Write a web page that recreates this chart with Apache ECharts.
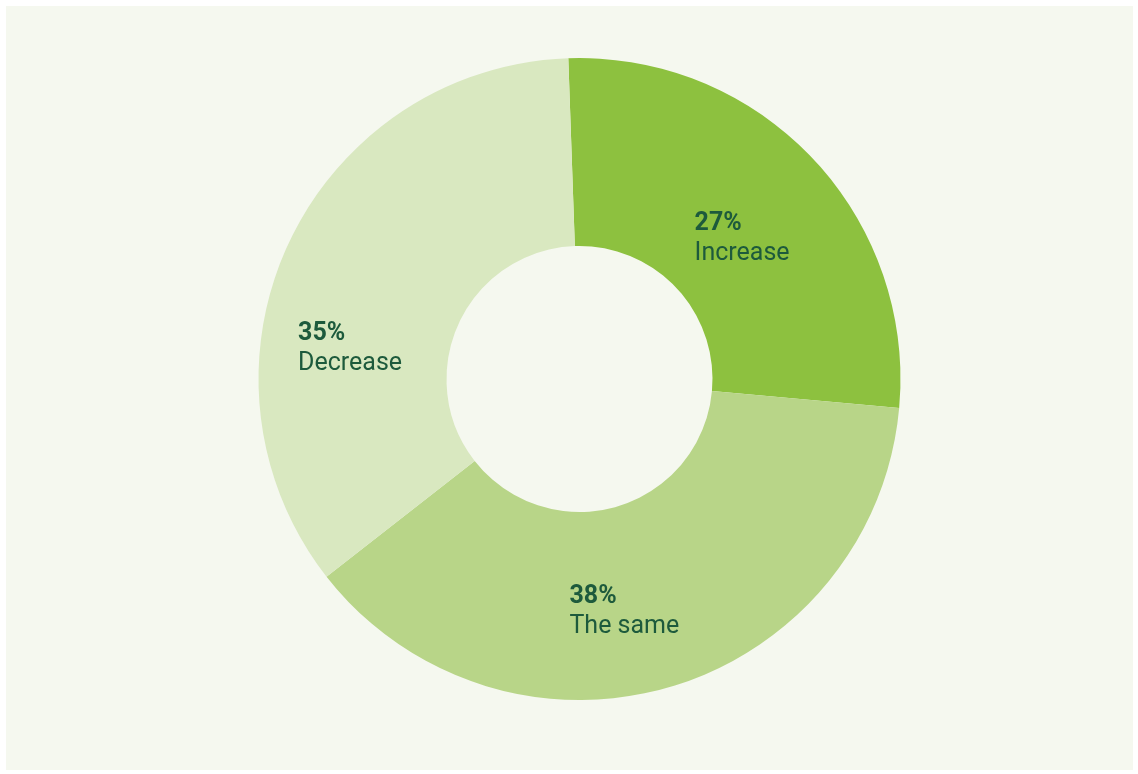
<!DOCTYPE html>
<html>
<head>
<meta charset="utf-8">
<script src="https://cdn.jsdelivr.net/npm/echarts@6/dist/echarts.min.js"></script>
<style>
  html, body { margin: 0; padding: 0; background: #ffffff; }
  #chart { position: absolute; left: 6px; top: 6px; width: 1127px; height: 764px; }
</style>
</head>
<body>
<div id="chart"></div>
<script>
// Share of answers, in percent
const categories = ['Increase', 'The same', 'Decrease'];
const values = [27, 38, 35];
const colors = ['#8dc13f', '#b8d588', '#d9e8c0'];
// Nudge each label inside its slice
const labelOffsets = [[3, 18], [-20, 12], [-18, 67]];

const chart = echarts.init(document.getElementById('chart'));
chart.setOption({
  backgroundColor: '#f5f8ef',
  animation: false,
  series: [{
    type: 'pie',
    center: [573.5, 373],
    radius: [133, 321],
    startAngle: 92,
    clockwise: true,
    silent: true,
    labelLine: { show: false },
    label: {
      show: true,
      position: 'inside',
      formatter: p => '{p|' + p.value + '%}\n{n|' + p.name + '}',
      rich: {
        p: { fontFamily: 'Roboto', fontSize: 25, fontWeight: 'bold', color: '#1d5a3c', lineHeight: 30, width: 110, align: 'left' },
        n: { fontFamily: 'Roboto', fontSize: 25, color: '#1d5a3c', lineHeight: 30, width: 110, align: 'left' }
      }
    },
    itemStyle: { borderWidth: 0 },
    data: categories.map((c, i) => ({
      name: c,
      value: values[i],
      itemStyle: { color: colors[i] },
      label: { offset: labelOffsets[i] }
    }))
  }]
});
</script>
</body>
</html>
